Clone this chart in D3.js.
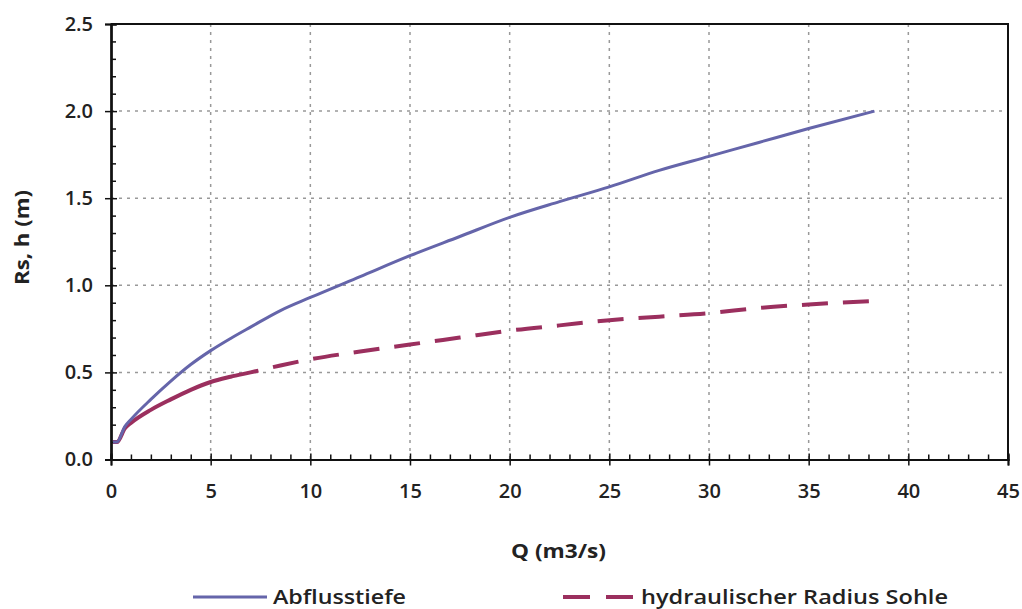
<!DOCTYPE html>
<html>
<head>
<meta charset="utf-8">
<script src="https://cdnjs.cloudflare.com/ajax/libs/d3/7.8.5/d3.min.js"></script>
<style>
  body { margin: 0; background: #fff; }
  text { font-family: "Open Sans", "DejaVu Sans", sans-serif; fill: #222; }
</style>
</head>
<body>
<div id="chart"></div>
<script>
// Abfluss Q (m3/s)
var qValues = [0.1, 0.3, 0.7, 1, 2, 3, 4, 5, 6, 7, 8.5, 10, 12.5, 15, 17.5, 20, 22.5, 25, 27.5, 30, 32.5, 35, 38.3];
// Abflusstiefe h (m)
var depth = [0.10, 0.10, 0.19, 0.23, 0.345, 0.45, 0.545, 0.625, 0.695, 0.76, 0.855, 0.93, 1.05, 1.17, 1.28, 1.39, 1.48, 1.565, 1.66, 1.74, 1.82, 1.90, 2.00];
// hydraulischer Radius Sohle Rs (m)
var radius = [0.10, 0.10, 0.18, 0.21, 0.285, 0.345, 0.40, 0.445, 0.475, 0.50, 0.54, 0.575, 0.62, 0.66, 0.70, 0.74, 0.77, 0.80, 0.82, 0.84, 0.87, 0.89, 0.91];

var xTicks = [0, 5, 10, 15, 20, 25, 30, 35, 40, 45];
var yTicks = [0, 0.5, 1.0, 1.5, 2.0, 2.5];
var seriesNames = ["Abflusstiefe", "hydraulischer Radius Sohle"];

var width = 1022, height = 609;
var mLeft = 111, mRight = 1008, mTop = 24, mBottom = 459.5;

var svg = d3.select("#chart").append("svg")
    .attr("width", width)
    .attr("height", height);

var x = d3.scaleLinear().domain([0, 45]).range([mLeft, mRight]);
var y = d3.scaleLinear().domain([0, 2.5]).range([mBottom, mTop]);

// gitter
var grid = svg.append("g").attr("stroke", "#999").attr("stroke-width", 1.5).attr("stroke-dasharray", "3,5");
grid.selectAll(".vg").data(xTicks.slice(1, -1)).enter().append("line")
    .attr("x1", function (d) { return x(d); })
    .attr("x2", function (d) { return x(d); })
    .attr("y1", mTop)
    .attr("y2", mBottom);
grid.selectAll(".hg").data(yTicks.slice(1, -1)).enter().append("line")
    .attr("x1", mLeft)
    .attr("x2", mRight)
    .attr("y1", function (d) { return y(d); })
    .attr("y2", function (d) { return y(d); });

// rahmen oben und rechts
svg.append("path")
    .attr("d", "M" + mLeft + "," + mTop + "H" + mRight + "V" + mBottom)
    .attr("fill", "none")
    .attr("stroke", "#111")
    .attr("stroke-width", 2);

// x achse: haupt ticks (kreuzend) und neben ticks (innen)
svg.append("g").attr("transform", "translate(0," + mBottom + ")")
    .call(d3.axisBottom(x).tickValues(xTicks).tickSize(6).tickPadding(18).tickFormat(d3.format("d")));
svg.append("g").attr("transform", "translate(0," + mBottom + ")")
    .call(d3.axisTop(x).tickValues(xTicks).tickSize(6).tickFormat(""));
svg.append("g").attr("transform", "translate(0," + mBottom + ")")
    .call(d3.axisTop(x).tickValues(d3.range(1, 45, 1).filter(function (d) { return d % 5 != 0; })).tickSize(5).tickFormat(""));

// y achse
svg.append("g").attr("transform", "translate(" + mLeft + ",0)")
    .call(d3.axisLeft(y).tickValues(yTicks).tickSize(6).tickPadding(12).tickFormat(d3.format(".1f")));
svg.append("g").attr("transform", "translate(" + mLeft + ",0)")
    .call(d3.axisRight(y).tickValues(yTicks).tickSize(6).tickFormat(""));
svg.append("g").attr("transform", "translate(" + mLeft + ",0)")
    .call(d3.axisRight(y).tickValues(d3.range(1, 25, 1).filter(function (d) { return d % 5 != 0; }).map(function (d) { return d / 10; })).tickSize(5).tickFormat(""));

svg.selectAll(".domain").attr("stroke", "#111").attr("stroke-width", 2);
svg.selectAll(".tick line").attr("stroke", "#111").attr("stroke-width", 1.5);
svg.selectAll(".tick text")
    .style("font-size", "20px")
    .style("font-weight", 600)
    .style("fill", "#222");

// achsentitel
svg.append("text")
    .attr("x", 511)
    .attr("y", 558)
    .attr("textLength", 95)
    .attr("lengthAdjust", "spacingAndGlyphs")
    .style("font-size", "19px")
    .style("font-weight", 700)
    .text("Q (m3/s)");
svg.append("text")
    .attr("transform", "translate(29,285) rotate(-90)")
    .attr("textLength", 95)
    .attr("lengthAdjust", "spacingAndGlyphs")
    .style("font-size", "19px")
    .style("font-weight", 700)
    .text("Rs, h (m)");

// kurven
var line = d3.line()
    .x(function (d) { return x(d[0]); })
    .y(function (d) { return y(d[1]); })
    .curve(d3.curveMonotoneX);

var rsData = d3.zip(qValues, radius);
var rsPath = svg.append("path")
    .datum(rsData)
    .attr("d", line)
    .attr("fill", "none")
    .attr("stroke", "#9b2f5e")
    .attr("stroke-width", 4);

// am anfang durchgezogen (dichte punkte), danach gestrichelt
var tmp = svg.append("path").attr("d", line(rsData.filter(function (d) { return d[0] <= 7; })));
var solidLen = tmp.node().getTotalLength();
tmp.remove();
var total = rsPath.node().getTotalLength();
var dashes = [solidLen + 8, 15];
for (var s = solidLen + 23; s < total + 50; s += 41) dashes.push(26, 15);
rsPath.attr("stroke-dasharray", dashes.join(","));

svg.append("path")
    .datum(d3.zip(qValues, depth))
    .attr("d", line)
    .attr("fill", "none")
    .attr("stroke", "#6565aa")
    .attr("stroke-width", 3);

// legende
var leg = svg.append("g");
leg.append("line")
    .attr("x1", 193).attr("x2", 267).attr("y1", 597).attr("y2", 597)
    .attr("stroke", "#6565aa").attr("stroke-width", 3);
leg.append("text")
    .attr("x", 273).attr("y", 604)
    .attr("textLength", 133)
    .attr("lengthAdjust", "spacingAndGlyphs")
    .style("font-size", "19px")
    .style("font-weight", 600)
    .text(seriesNames[0]);
leg.append("line")
    .attr("x1", 563).attr("x2", 633).attr("y1", 597).attr("y2", 597)
    .attr("stroke", "#9b2f5e").attr("stroke-width", 4)
    .attr("stroke-dasharray", "27,16");
leg.append("text")
    .attr("x", 641).attr("y", 604)
    .attr("textLength", 307)
    .attr("lengthAdjust", "spacingAndGlyphs")
    .style("font-size", "19px")
    .style("font-weight", 600)
    .text(seriesNames[1]);
</script>
</body>
</html>
